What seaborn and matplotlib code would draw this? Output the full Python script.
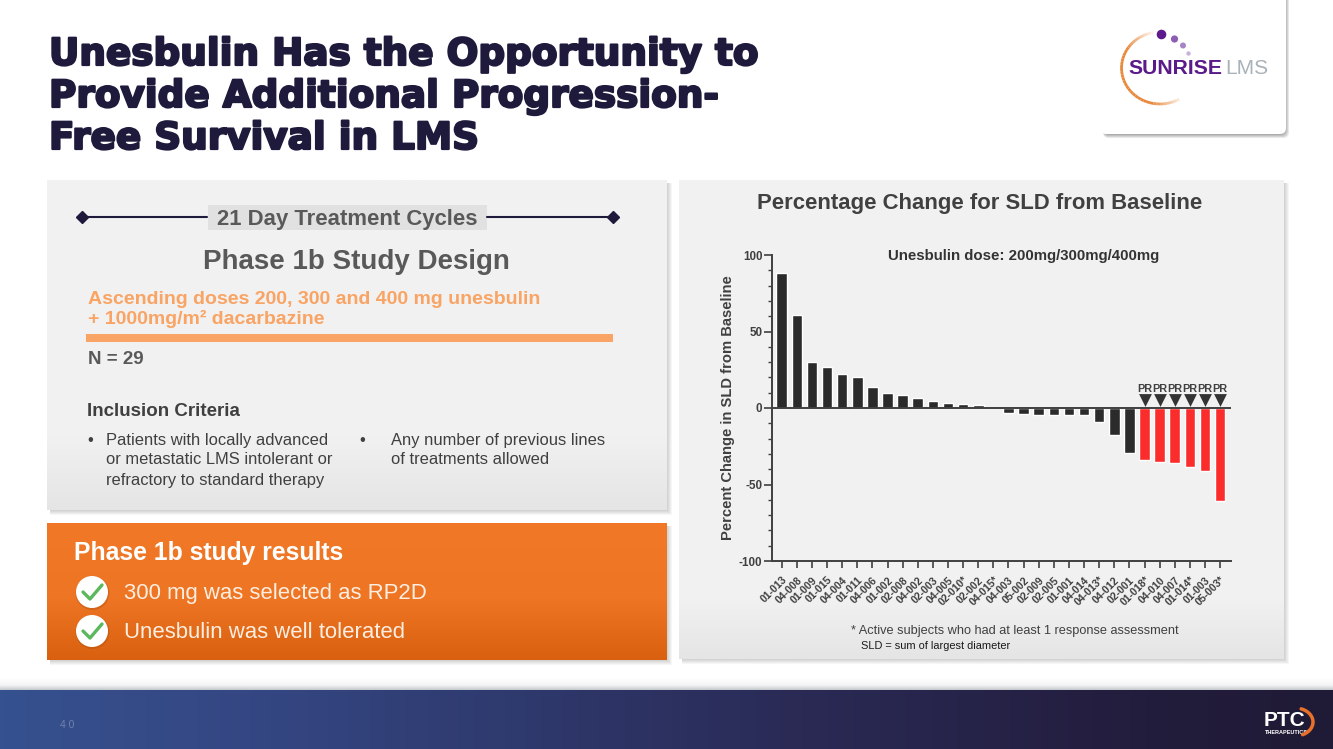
import numpy as np
import pandas as pd
import seaborn as sns
import matplotlib
matplotlib.use("Agg")
import matplotlib.pyplot as plt
from matplotlib.patches import Rectangle, Circle, FancyBboxPatch
from matplotlib.ticker import MultipleLocator
import matplotlib.patheffects as pe

subjects = ["01-013", "04-008", "01-009", "01-015", "04-004", "01-011", "04-006", "01-002",
            "02-008", "04-002", "02-003", "04-005", "02-010*", "02-002", "04-015*", "04-003",
            "05-002", "02-009", "02-005", "01-001", "04-014", "04-013*", "04-012", "02-001",
            "01-018*", "04-010", "04-007", "01-014*", "01-003", "05-003*"]
changes = [88, 60.5, 30, 27, 22.5, 20.5, 14, 10, 8.5, 6.5, 4.5, 3.2, 2.5, 1.8, 0, -3.3,
           -3.9, -4.3, -4.3, -4.6, -4.8, -9.1, -17.9, -29.2, -34, -35.5, -36.2, -38.3, -41, -60.6]
responses = ["none"] * 24 + ["PR"] * 6

y_ticks = [-100, -50, 0, 50, 100]
title_lines = ["Unesbulin Has the Opportunity to", "Provide Additional Progression-", "Free Survival in LMS"]
criteria_left = ["Patients with locally advanced", "or metastatic LMS intolerant or", "refractory to standard therapy"]
criteria_right = ["Any number of previous lines", "of treatments allowed"]
results = ["300 mg was selected as RP2D", "Unesbulin was well tolerated"]

sns.set_theme(style="white")
plt.rcParams["font.family"] = ["Liberation Sans", "DejaVu Sans"]
plt.rcParams["axes.unicode_minus"] = False

W, H = 1333, 749
fig = plt.figure(figsize=(W / 100, H / 100), dpi=100, facecolor="white")

# Whole slide in pixel coordinates
bg = fig.add_axes([0, 0, 1, 1])
bg.set_xlim(0, W)
bg.set_ylim(H, 0)
bg.axis("off")


def gradient(x0, y0, x1, y1, stops, horizontal=False, z=1):
    pos = np.linspace(0, 1, 256)
    rgb = np.array([matplotlib.colors.to_rgb(c) for _, c in stops])
    where = [s for s, _ in stops]
    img = np.stack([np.interp(pos, where, rgb[:, i]) for i in range(3)], axis=-1)
    img = img[np.newaxis, :, :] if horizontal else img[:, np.newaxis, :]
    bg.imshow(img, extent=[x0, x1, y1, y0], aspect="auto", zorder=z)


def shadow(x0, y0, x1, y1, z=0.5):
    # soft drop shadow, only shows on the right and bottom
    for i in [5, 4, 3, 2, 1]:
        bg.add_patch(Rectangle((x0 + 3, y0 + 3), x1 - x0 - 3 + i, y1 - y0 - 3 + i, fc="black", alpha=0.035, lw=0, zorder=z))


shadow(47, 180, 667, 510)
gradient(47, 180, 667, 510, [(0, "#f2f2f2"), (0.78, "#f1f1f1"), (1, "#e5e5e5")])
shadow(679, 180, 1284, 659)
gradient(679, 180, 1284, 659, [(0, "#f2f2f2"), (0.88, "#f1f1f1"), (1, "#e5e5e5")])
shadow(47, 523, 667, 660)
gradient(47, 523, 667, 660, [(0, "#f07826"), (0.55, "#ee7523"), (1, "#d9600f")])

# Footer band
gradient(0, 678, W, 690, [(0, "#ffffff"), (0.6, "#f4f4f4"), (1, "#c4c8cb")], z=1)
gradient(0, 690, W, 749, [(0, "#36518f"), (0.2, "#344682"), (0.38, "#2f3a6e"), (0.6, "#2a2a55"),
                          (0.86, "#231d3d"), (1, "#1f1a35")], horizontal=True)
bg.text(67, 725, "4 0", color="#6f82ad", fontsize=7.5, ha="center", va="center", zorder=3)

# Headline
stroke = [pe.withStroke(linewidth=1.6, foreground="#1e1a3c")]
for line, y in zip(title_lines, [54.5, 96.5, 138.5]):
    bg.text(49, y, line, color="#1e1a3c", fontsize=26.9, fontweight="bold", va="center", zorder=3,
            family="DejaVu Sans", path_effects=stroke)

# Logo card
for i in [5, 4, 3, 2, 1]:
    bg.add_patch(FancyBboxPatch((1103, -8), 181 + i, 141 + i, boxstyle="round,pad=0,rounding_size=6",
                                fc="black", alpha=0.09, lw=0, zorder=2))
bg.add_patch(FancyBboxPatch((1100, -8), 186, 142, boxstyle="round,pad=0,rounding_size=6", fc="white", lw=0, zorder=2.5))
arc_t = np.radians(np.linspace(100, 300, 41))
for i in range(40):
    frac = min(i, 40 - i) / 10
    bg.plot(1160 + 38.5 * np.cos(arc_t[i:i + 2]), 68 - 36 * np.sin(arc_t[i:i + 2]), color="#e8883a",
            lw=2, alpha=min(1, frac + 0.1), zorder=3, solid_capstyle="butt")
for cx, cy, r, col in [(1161.5, 34.5, 4.8, "#5c1a8c"), (1174.5, 39, 3.6, "#8d5cb5"),
                       (1183, 45.5, 3, "#a684c6"), (1188.5, 53.5, 2.2, "#c9b3dc")]:
    bg.add_patch(Circle((cx, cy), r, fc=col, lw=0, zorder=3.2))
bg.text(1128, 69, "SUNRISE", color="#5a1a8a", fontsize=15.2, fontweight="bold", va="center", zorder=3.5)
bg.text(1225, 69, "LMS", color="#a9b2b8", fontsize=15, va="center", zorder=3.5)

# Left panel
grey = "#595959"
bg.plot([82, 207], [217, 217], color="#1e1a3c", lw=1.5, zorder=3)
bg.plot([487, 613], [217, 217], color="#1e1a3c", lw=1.5, zorder=3)
bg.plot([82, 613], [217, 217], ls="none", marker="D", ms=6.5, color="#1e1a3c", zorder=3)
bg.add_patch(Rectangle((208, 205), 279, 25, fc="#e1e1e1", lw=0, zorder=2.5))
bg.text(347, 219, "21 Day Treatment Cycles", color=grey, fontsize=15.9, fontweight="bold", ha="center",
        va="center", zorder=3)
bg.text(356, 262, "Phase 1b Study Design", color=grey, fontsize=20, fontweight="bold", ha="center", va="center", zorder=3)
bg.text(88, 299, "Ascending doses 200, 300 and 400 mg unesbulin", color="#f9a464", fontsize=14, fontweight="bold",
        va="center", zorder=3)
bg.text(88, 319, "+ 1000mg/m² dacarbazine", color="#f9a464", fontsize=14, fontweight="bold",
        va="center", zorder=3)
bg.add_patch(Rectangle((86, 334), 527, 8, fc="#f9a464", lw=0, zorder=3))
bg.text(88, 359, "N = 29", color=grey, fontsize=13.5, fontweight="bold", va="center", zorder=3)
bg.text(87, 411, "Inclusion Criteria", color="#404040", fontsize=13.5, fontweight="bold", va="center", zorder=3)
bg.text(87, 440, "•", color="#404040", fontsize=12, va="center", zorder=3)
for line, y in zip(criteria_left, [440, 460, 480]):
    bg.text(106, y, line, color="#404040", fontsize=11.9, va="center", zorder=3)
bg.text(359, 440, "•", color="#404040", fontsize=12, va="center", zorder=3)
for line, y in zip(criteria_right, [440, 460]):
    bg.text(391, y, line, color="#404040", fontsize=11.9, va="center", zorder=3)

# Results box
bg.text(74, 553, "Phase 1b study results", color="white", fontsize=17.8, fontweight="bold", va="center", zorder=3)
for line, y in zip(results, [592, 631]):
    bg.add_patch(Circle((92.5, y + 1), 17, fc="#a84c10", alpha=0.35, lw=0, zorder=3))
    bg.add_patch(Circle((92, y), 16, fc="white", lw=0, zorder=3.1))
    bg.plot([83, 90, 102], [y, y + 7, y - 7], color="#5cb85c", lw=2.4, zorder=3.2)
    bg.text(124, y + 1, line, color="#fdeee2", fontsize=15.9, va="center", zorder=3)

# Footer logo
bg.text(1264, 721, "PTC", color="white", fontsize=15, fontweight="bold", va="center", zorder=3)
bg.text(1265, 732, "THERAPEUTICS", color="white", fontsize=4, fontweight="bold", va="center", zorder=3)
t = np.radians(np.linspace(70, -65, 30))
bg.plot(1295 + 18 * np.cos(t), 722 - 14 * np.sin(t), color="#e8702a", lw=2.5, zorder=3)

# Right panel texts
bg.text(980, 203, "Percentage Change for SLD from Baseline", color="#404040", fontsize=15.9, fontweight="bold",
        ha="center", va="center", zorder=3)
bg.text(1024, 256, "Unesbulin dose: 200mg/300mg/400mg", color="#333333", fontsize=10.8, fontweight="bold",
        ha="center", va="center", zorder=3)
bg.text(851, 631, "* Active subjects who had at least 1 response assessment", color="#404040", fontsize=9.15,
        va="center", zorder=3)
bg.text(861, 646, "SLD = sum of largest diameter", color="#1a1a1a", fontsize=7.95, va="center", zorder=3)

# Waterfall
ax_l, ax_r, ax_t, ax_b = 771.7, 1230.7, 255, 561
ax = fig.add_axes([ax_l / W, 1 - ax_b / H, (ax_r - ax_l) / W, (ax_b - ax_t) / H], facecolor="none", zorder=5)
df = pd.DataFrame({"subject": subjects, "change": changes, "response": responses})
sns.barplot(data=df, x="subject", y="change", hue="response", order=subjects, dodge=False, width=0.7,
            palette={"none": "#2b2b2b", "PR": "#fb2c2c"}, legend=False, saturation=1, ax=ax)
ax.set_xlim(-0.66, 29.7)
ax.set_ylim(-100, 100)
ax.set_yticks(y_ticks)
ax.yaxis.set_minor_locator(MultipleLocator(10))
ax.axhline(0, color="#404040", lw=1.4, zorder=4)
sns.despine(ax=ax)
for side in ["left", "bottom"]:
    ax.spines[side].set_linewidth(1.4)
    ax.spines[side].set_color("#404040")
ax.tick_params(axis="y", which="major", left=True, length=6, width=1.2, color="#404040", pad=0.8,
               labelsize=8.4, labelcolor="#404040")
ax.tick_params(axis="y", which="minor", left=True, length=3, width=1, color="#404040")
ax.tick_params(axis="x", which="major", bottom=True, length=5, width=1.2, color="#404040", pad=5)
for lab in ax.get_yticklabels():
    lab.set_fontweight("bold")
ax.set_xticks(range(len(subjects)))
ax.set_xticklabels(subjects, rotation=45, ha="right", rotation_mode="anchor", fontsize=7.6, fontweight="bold",
                   color="#404040")

pr = df[df["response"] == "PR"]
sns.scatterplot(x=pr["subject"], y=[5] * len(pr), marker="v", s=85, color="#333333", linewidth=0, legend=False,
                ax=ax, zorder=6, clip_on=False)
for s in pr["subject"]:
    ax.text(subjects.index(s), 12.4, "PR", ha="center", va="center", fontsize=7.8, fontweight="bold", color="#404040")
ax.set_xlabel("")
ax.set_ylabel("")
bg.text(728, 408, "Percent Change in SLD from Baseline", color="#404040", fontsize=10.65, fontweight="bold",
        rotation=90, ha="center", va="center", zorder=3)

fig.savefig("out.png", dpi=100)
